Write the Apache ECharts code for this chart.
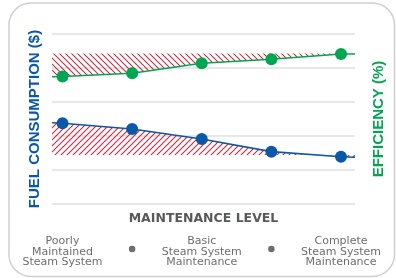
<html>

<head>
    <meta charset="utf-8" />
    <style>
        html, body {
            margin: 0;
            padding: 0;
            background: #fff;
        }
        .chart {
            width: 396px;
            height: 278px;
        }
    </style>
    <script src="https://cdn.jsdelivr.net/npm/echarts@6/dist/echarts.min.js"></script>
</head>

<body>
    <div id='chart' class='chart'></div>
    <script type="text/javascript">
        /* maintenance levels, dots in between the named ones */
        var categories = ['Poorly\nMaintained\nSteam System', '', 'Basic\nSteam System\nMaintenance', '', 'Complete\nSteam System\nMaintenance'];
        var levels = [0, 1, 2, 3, 4];
        var fuelValues = [47.5, 44.1, 38.2, 30.8, 27.8];
        var efficiencyValues = [75.0, 76.9, 82.8, 85.1, 88.2];
        /* where the lines meet the edges of the plot */
        var edgeLevels = [-0.151, 4.201];
        var fuelEdge = [47.8, 27.5];
        var efficiencyEdge = [74.9, 88.2];
        /* hatched band limits */
        var fuelFloor = 28.8;
        var efficiencyCeiling = 88.5;

        var blueColor = '#0b58a8';
        var greenColor = '#00a651';
        var hatchColor = '#cc1f36';

        /* diagonal stripes as a small repeating canvas tile */
        function makeHatch(down) {
            var size = 6;
            var c = document.createElement('canvas');
            c.width = size;
            c.height = size;
            var ctx = c.getContext('2d');
            ctx.clearRect(0, 0, size, size);
            ctx.fillStyle = hatchColor;
            var w = 0.7;
            // three parallelograms so the tile joins up seamlessly
            [-size, 0, size].forEach(function (off) {
                ctx.beginPath();
                if (down) {
                    ctx.moveTo(off - w, 0);
                    ctx.lineTo(off + w, 0);
                    ctx.lineTo(off + size + w, size);
                    ctx.lineTo(off + size - w, size);
                } else {
                    ctx.moveTo(off - w, size);
                    ctx.lineTo(off + w, size);
                    ctx.lineTo(off + size + w, 0);
                    ctx.lineTo(off + size - w, 0);
                }
                ctx.closePath();
                ctx.fill();
            });
            return { image: c, repeat: 'repeat' };
        }
        var hatchDown = makeHatch(true);
        var hatchUp = makeHatch(false);

        function lineData(values, edge) {
            var out = [{ value: [edgeLevels[0], edge[0]], symbol: 'none' }];
            levels.forEach(function (x, i) {
                out.push([x, values[i]]);
            });
            out.push({ value: [edgeLevels[1], edge[1]], symbol: 'none' });
            return out;
        }

        var chart = echarts.init(document.getElementById('chart'));
        var option = {
            backgroundColor: '#fff',
            animation: false,
            graphic: [{
                type: 'rect',
                shape: { x: 9, y: 3, width: 385.5, height: 273.5, r: 22 },
                style: { fill: 'none', stroke: '#cfcfcf', lineWidth: 1.5 },
                silent: true,
                z: -10
            }],
            grid: [
                { left: 52, right: 41, top: 34, bottom: 74 },
                { left: 27.7, right: 20.2, top: 34, bottom: 74 }
            ],
            xAxis: [
                {
                    type: 'value', gridIndex: 0,
                    min: edgeLevels[0], max: edgeLevels[1],
                    axisLine: { show: false }, axisTick: { show: false },
                    axisLabel: { show: false }, splitLine: { show: false },
                    name: 'MAINTENANCE LEVEL',
                    nameLocation: 'middle',
                    nameGap: 8,
                    nameTextStyle: {
                        color: '#58595b', fontSize: 12.5, fontWeight: 'bold',
                        fontFamily: 'DejaVu Sans', verticalAlign: 'top'
                    }
                },
                {
                    type: 'category', gridIndex: 1,
                    data: categories,
                    boundaryGap: true,
                    axisLine: { show: false }, axisTick: { show: false },
                    splitLine: { show: false },
                    axisLabel: {
                        interval: 0,
                        margin: 32,
                        color: '#6d6e71',
                        fontSize: 11,
                        lineHeight: 10.5,
                        fontFamily: 'DejaVu Sans',
                        formatter: function (v) {
                            return v === '' ? '{d|}' : v;
                        },
                        rich: {
                            d: {
                                width: 6.5, height: 6.5, borderRadius: 3.25,
                                backgroundColor: '#6d6e71',
                                lineHeight: 26
                            }
                        }
                    }
                }
            ],
            yAxis: [
                {
                    type: 'value', gridIndex: 0, position: 'left',
                    min: 0, max: 100, interval: 20,
                    axisLine: { show: false }, axisTick: { show: false },
                    axisLabel: { show: false },
                    splitLine: { lineStyle: { color: '#e6e7e8', width: 2 } },
                    name: 'FUEL CONSUMPTION ($)',
                    nameLocation: 'middle',
                    nameRotate: 90,
                    nameGap: 10,
                    nameTextStyle: {
                        color: blueColor, fontSize: 15, fontWeight: 'bold',
                        fontFamily: 'Liberation Sans'
                    }
                },
                {
                    type: 'value', gridIndex: 0, position: 'right',
                    min: 0, max: 100, interval: 20,
                    axisLine: { show: false }, axisTick: { show: false },
                    axisLabel: { show: false }, splitLine: { show: false },
                    name: 'EFFICIENCY (%)',
                    nameLocation: 'middle',
                    nameRotate: 90,
                    nameGap: 16,
                    nameTextStyle: {
                        color: greenColor, fontSize: 15, fontWeight: 'bold',
                        fontFamily: 'Liberation Sans'
                    }
                },
                {
                    type: 'value', gridIndex: 1, show: false
                }
            ],
            series: [
                {
                    name: 'Efficiency',
                    type: 'line',
                    xAxisIndex: 0, yAxisIndex: 1,
                    data: lineData(efficiencyValues, efficiencyEdge),
                    symbol: 'circle', symbolSize: 12,
                    itemStyle: { color: greenColor },
                    lineStyle: { color: greenColor, width: 1.5 },
                    areaStyle: { color: hatchDown, origin: efficiencyCeiling, opacity: 1 },
                    silent: true
                },
                {
                    name: 'Fuel Consumption',
                    type: 'line',
                    xAxisIndex: 0, yAxisIndex: 0,
                    data: lineData(fuelValues, fuelEdge),
                    symbol: 'circle', symbolSize: 12,
                    itemStyle: { color: blueColor },
                    lineStyle: { color: blueColor, width: 1.6 },
                    areaStyle: { color: hatchUp, origin: fuelFloor, opacity: 1 },
                    silent: true
                }
            ]
        };
        chart.setOption(option);
    </script>
</body>

</html>
